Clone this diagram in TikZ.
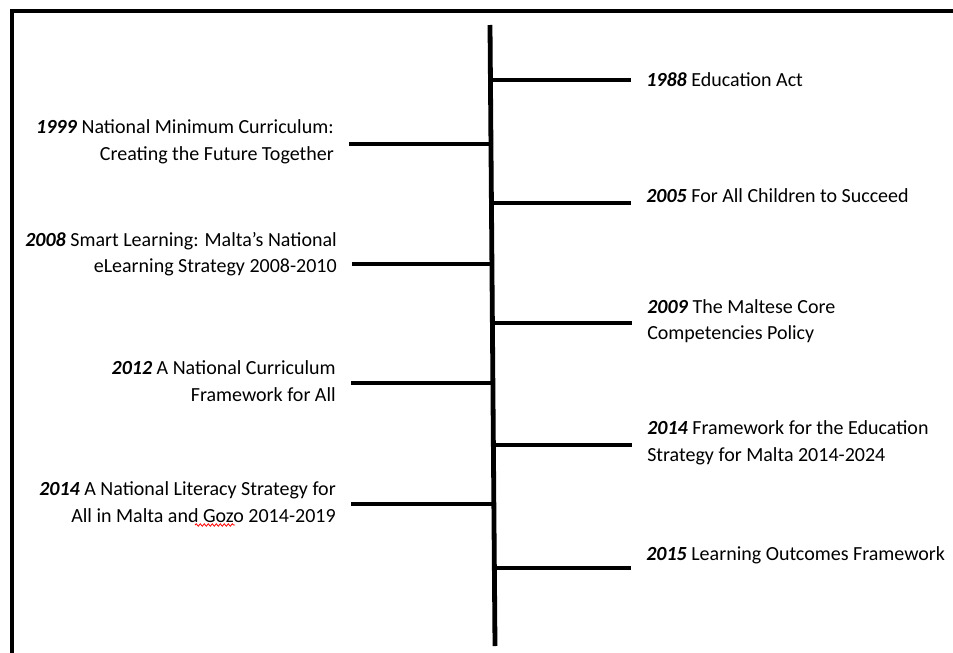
\documentclass[tikz,border=0pt]{standalone}
\usepackage{fontspec}
\setmainfont{Carlito}
\usetikzlibrary{calc,decorations.pathmorphing}

\tikzset{
    eventtext/.style={font=\fontsize{15}{20}\selectfont, inner xsep=11.25pt, inner ysep=0pt},
    lefttext/.style={eventtext, anchor=east, align=right},
    righttext/.style={eventtext, anchor=west, align=left},
    branch/.style={line width=3pt},
    spine/.style={line width=3.6pt},
    frameline/.style={line width=3.3pt}
}
\newcommand{\yr}[1]{\textbf{\textit{#1}}}

\begin{document}
\begin{tikzpicture}[x=0.75pt,y=-0.75pt]

        \useasboundingbox (0,0) rectangle (953,653);
        \draw[frameline] (12,653) -- (12,11) -- (953,11);

        \coordinate (top) at (490,25);
        \coordinate (bot) at (495,646);
        \draw[spine] (top) -- (bot);

        % points on the spine
        \coordinate (b1988) at ($(top)!{(80-25)/621}!(bot)$);
        \coordinate (b1999) at ($(top)!{(144-25)/621}!(bot)$);
        \coordinate (b2005) at ($(top)!{(203-25)/621}!(bot)$);
        \coordinate (b2008) at ($(top)!{(264-25)/621}!(bot)$);
        \coordinate (b2009) at ($(top)!{(323-25)/621}!(bot)$);
        \coordinate (b2012) at ($(top)!{(383-25)/621}!(bot)$);
        \coordinate (b2014r) at ($(top)!{(445-25)/621}!(bot)$);
        \coordinate (b2014l) at ($(top)!{(504-25)/621}!(bot)$);
        \coordinate (b2015) at ($(top)!{(568-25)/621}!(bot)$);

        \node[righttext] (t1988) at (631,80) {\yr{1988} Education Act};
        \node[righttext] (t2005) at (631,196) {\yr{2005} For All Children to Succeed};
        \node[righttext] (t2009) at (632,321) {\yr{2009} The Maltese Core\\Competencies Policy};
        \node[righttext] (t2014r) at (632,443) {\yr{2014} Framework for the Education\\Strategy for Malta 2014-2024};
        \node[righttext] (t2015) at (631,555) {\yr{2015} Learning Outcomes Framework};

        \node[lefttext] (t1999) at (349,142) {\yr{1999} National Minimum Curriculum:\\Creating the Future Together};
        \node[lefttext] (t2008) at (352,254) {\yr{2008} Smart Learning: Malta’s National\\eLearning Strategy 2008-2010};
        \node[lefttext] (t2012) at (351,381) {\yr{2012} A National Curriculum\\Framework for All};
        \node[lefttext] (t2014l) at (351,502) {\yr{2014} A National Literacy Strategy for\\All in Malta and Gozo 2014-2019};

        \draw[branch] (b1988) -- (t1988.west |- b1988);
        \draw[branch] (b2005) -- (t2005.west |- b2005);
        \draw[branch] (b2009) -- (t2009.west |- b2009);
        \draw[branch] (b2014r) -- (t2014r.west |- b2014r);
        \draw[branch] (b2015) -- (t2015.west |- b2015);

        \draw[branch] (t1999.east |- b1999) -- (b1999);
        \draw[branch] (t2008.east |- b2008) -- (b2008);
        \draw[branch] (t2012.east |- b2012) -- (b2012);
        \draw[branch] (t2014l.east |- b2014l) -- (b2014l);

        % spelling mark under Gozo
        \draw[red, line width=0.6pt, decorate, decoration={snake, amplitude=0.9pt, segment length=3pt}] (195,525) -- (235,525);
    \end{tikzpicture}
\end{document}
